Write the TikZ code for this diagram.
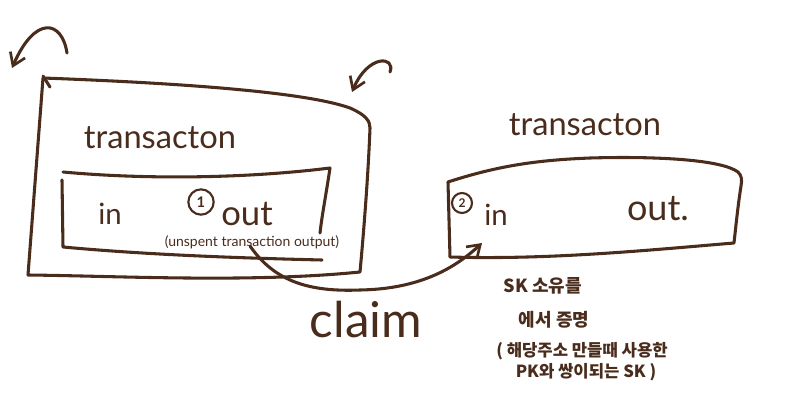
\documentclass[tikz,border=0pt]{standalone}
\usepackage{fontspec}
\setmainfont{Lato}
\newfontfamily\kr{Noto Sans CJK KR}
\usetikzlibrary{arrows.meta}
\definecolor{ink}{HTML}{4A2C1C}
\tikzset{
  pen/.style={draw=ink, line width=2.3pt, line cap=round, line join=round},
  lbl/.style={text=ink, inner sep=0pt},
  krlbl/.style={text=ink, inner sep=0pt, font=\kr\bfseries\fontsize{13.5}{13.5}\selectfont},
  barb/.style={-{Straight Barb[length=9pt,width=12pt,line width=2pt]}},
  numcirc/.style={circle, draw=ink, line width=1.6pt, text=ink, inner sep=1pt, font=\fontsize{11}{11}\selectfont\bfseries}
}
\begin{document}
\begin{tikzpicture}[x=0.75pt,y=-0.75pt]
\useasboundingbox (0,0) rectangle (807,400);
% ---------- left transaction (outer box)
\draw[pen] (43,76) -- (50,87);
\draw[pen] (43,78) .. controls (150,82) and (300,90) .. (350,108)
  .. controls (366,115) and (370,121) .. (370,128)
  .. controls (368,180) and (363,240) .. (360,272)
  .. controls (250,283) and (120,276) .. (28,275)
  -- cycle;
% inner box
\draw[pen] (63,172) .. controls (150,180) and (250,178) .. (330,168)
  .. controls (326,195) and (322,215) .. (320,233);
\draw[pen] (62,180) -- (63,247)
  .. controls (150,255) and (240,258) .. (322,260);
% top arrows
\draw[pen, barb] (67,53) .. controls (62,20) and (35,15) .. (12,68);
\draw[pen, barb] (390,72) .. controls (396,56) and (368,54) .. (352,92);
% labels left
\node[lbl, font=\fontsize{24.5}{24.5}\selectfont] (tx1) at (160,138) {transacton};
\node[lbl, font=\fontsize{22}{22}\selectfont] (in1) at (110,214) {in};
\node[numcirc, minimum size=19pt] (n1) at (201,202) {1};
\node[lbl, font=\fontsize{26}{26}\selectfont] (out1) at (247,214) {out};
\node[lbl, font=\fontsize{10.5}{10.5}\selectfont] (utxo) at (252,242) {(unspent transaction output)};
% ---------- right transaction
\node[lbl, font=\fontsize{24.5}{24.5}\selectfont] (tx2) at (585,125) {transacton};
\draw[pen] (448,182) .. controls (500,165) and (540,160) .. (590,158)
  .. controls (660,156) and (722,160) .. (738,172)
  .. controls (742,176) and (742,180) .. (741,186)
  .. controls (738,205) and (736,225) .. (734,243)
  .. controls (650,250) and (550,260) .. (450,257)
  -- cycle;
\node[numcirc, minimum size=15pt, font=\fontsize{9}{9}\selectfont\bfseries] (n2) at (462,203) {2};
\node[lbl, font=\fontsize{22}{22}\selectfont] (in2) at (496,215) {in};
\node[lbl, font=\fontsize{27}{27}\selectfont] (out2) at (658,209) {out.};
% ---------- claim connector
\coordinate (cs) at (250,246);
\coordinate (ce) at (482,243);
\draw[pen, barb] (cs) .. controls (275,282) and (310,292) .. (360,290)
  .. controls (420,289) and (455,268) .. (ce);
\node[lbl, font=\fontsize{37}{37}\selectfont] (claim) at (366,320) {claim};
% ---------- korean notes
\node[krlbl] (k1) at (543,286) {SK 소유를};
\node[krlbl] (k2) at (554,320) {에서 증명};
\node[krlbl, font=\kr\bfseries\fontsize{12.5}{12.5}\selectfont] (k3) at (582,351) {( 해당주소 만들때 사용한};
\node[krlbl, font=\kr\bfseries\fontsize{12.5}{12.5}\selectfont] (k4) at (586,372) {PK와 쌍이되는 SK )};
\end{tikzpicture}
\end{document}
